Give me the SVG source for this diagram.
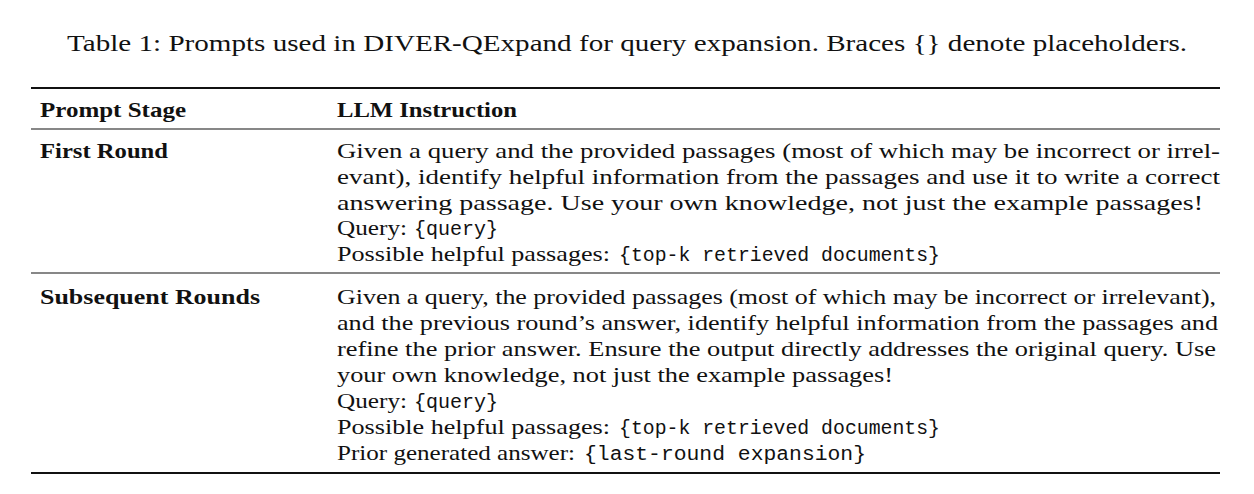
<svg xmlns="http://www.w3.org/2000/svg" width="1254" height="494" viewBox="0 0 1254 494">
<style>
text{font-family:"Liberation Serif","DejaVu Serif",serif;font-size:22px;fill:#111}
.b{font-weight:bold}
.m{font-family:"Liberation Mono","DejaVu Sans Mono",monospace;font-size:20px}
.cap{font-size:23px}
line{stroke:#111}
</style>
<rect width="1254" height="494" fill="#fff"/>
<text class="cap" x="627" y="51" text-anchor="middle" textLength="1120" lengthAdjust="spacingAndGlyphs">Table 1: Prompts used in DIVER-QExpand for query expansion. Braces {} denote placeholders.</text>
<line x1="31" y1="88" x2="1220" y2="88" stroke-width="2"/>
<line x1="31" y1="129" x2="1220" y2="129" stroke-width="1.2"/>
<line x1="31" y1="273" x2="1220" y2="273" stroke-width="1.2"/>
<line x1="31" y1="473" x2="1220" y2="473" stroke-width="2"/>
<text class="b" x="40" y="117" textLength="146" lengthAdjust="spacingAndGlyphs">Prompt Stage</text>
<text class="b" x="337" y="117" textLength="180" lengthAdjust="spacingAndGlyphs">LLM Instruction</text>
<text class="b" x="40" y="158" textLength="128" lengthAdjust="spacingAndGlyphs">First Round</text>
<text x="337" y="158" textLength="883" lengthAdjust="spacingAndGlyphs">Given a query and the provided passages (most of which may be incorrect or irrel-</text>
<text x="337" y="184" textLength="883" lengthAdjust="spacingAndGlyphs">evant), identify helpful information from the passages and use it to write a correct</text>
<text x="337" y="210" textLength="866" lengthAdjust="spacingAndGlyphs">answering passage. Use your own knowledge, not just the example passages!</text>
<text x="337" y="235" textLength="70" lengthAdjust="spacingAndGlyphs">Query:</text>
<text class="m" x="414" y="235" textLength="84" lengthAdjust="spacingAndGlyphs">{query}</text>
<text x="337" y="261" textLength="273" lengthAdjust="spacingAndGlyphs">Possible helpful passages:</text>
<text class="m" x="619" y="261" textLength="321" lengthAdjust="spacingAndGlyphs">{top-k retrieved documents}</text>
<text class="b" x="40" y="304" textLength="220" lengthAdjust="spacingAndGlyphs">Subsequent Rounds</text>
<text x="337" y="304" textLength="879" lengthAdjust="spacingAndGlyphs">Given a query, the provided passages (most of which may be incorrect or irrelevant),</text>
<text x="337" y="330" textLength="881" lengthAdjust="spacingAndGlyphs">and the previous round’s answer, identify helpful information from the passages and</text>
<text x="337" y="356" textLength="879" lengthAdjust="spacingAndGlyphs">refine the prior answer. Ensure the output directly addresses the original query. Use</text>
<text x="337" y="382" textLength="556" lengthAdjust="spacingAndGlyphs">your own knowledge, not just the example passages!</text>
<text x="337" y="408" textLength="70" lengthAdjust="spacingAndGlyphs">Query:</text>
<text class="m" x="414" y="408" textLength="84" lengthAdjust="spacingAndGlyphs">{query}</text>
<text x="337" y="434" textLength="273" lengthAdjust="spacingAndGlyphs">Possible helpful passages:</text>
<text class="m" x="619" y="434" textLength="321" lengthAdjust="spacingAndGlyphs">{top-k retrieved documents}</text>
<text x="337" y="460" textLength="238" lengthAdjust="spacingAndGlyphs">Prior generated answer:</text>
<text class="m" x="584" y="460" textLength="282" lengthAdjust="spacingAndGlyphs">{last-round expansion}</text>
</svg>
